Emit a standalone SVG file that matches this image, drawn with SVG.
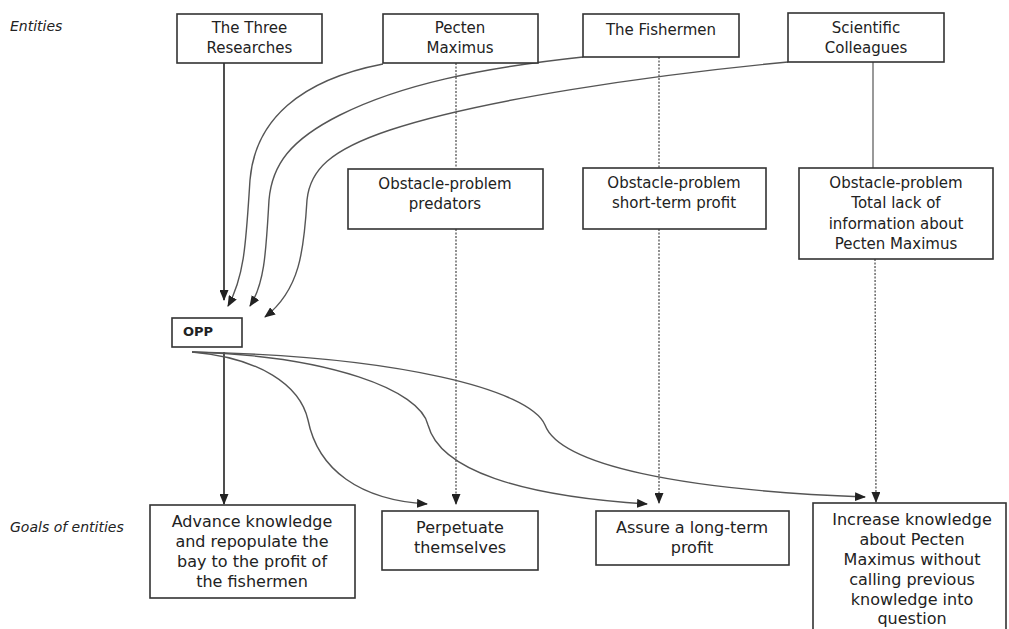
<svg xmlns="http://www.w3.org/2000/svg" width="1009" height="629" viewBox="0 0 1009 629">
<style>
.box{fill:#fff;stroke:#333;stroke-width:1.6}
.t{font-family:"DejaVu Sans",sans-serif;font-size:15px;fill:#222;text-anchor:middle}
.tb{font-family:"DejaVu Sans",sans-serif;font-size:16px;fill:#222;text-anchor:middle}
.lab{font-family:"DejaVu Sans",sans-serif;font-size:14px;font-style:italic;fill:#222}
.solid{fill:none;stroke:#222;stroke-width:1.6}
.curve{fill:none;stroke:#555;stroke-width:1.4}
.dot{fill:none;stroke:#555;stroke-width:1.3;stroke-dasharray:2 1.5}
.gray{fill:none;stroke:#999;stroke-width:2}
</style>
<defs>
<marker id="ah" markerUnits="userSpaceOnUse" markerWidth="11" markerHeight="9" refX="10" refY="4.5" orient="auto">
<path d="M0,0 L11,4.5 L0,9 z" fill="#222"/>
</marker>
</defs>
<rect width="1009" height="629" fill="#fff"/>
<text class="lab" x="10" y="31">Entities</text>
<text class="lab" x="10" y="532">Goals of entities</text>

<g id="connectors">
<line class="solid" x1="224" y1="63" x2="224" y2="300" marker-end="url(#ah)"/>
<path class="curve" d="M383,64 C300,80 255,120 250,180 C246,240 245,275 228,306" marker-end="url(#ah)"/>
<path class="curve" d="M583,57 C480,68 400,85 340,115 C290,140 272,165 269,200 C266,250 265,283 250,306" marker-end="url(#ah)"/>
<path class="curve" d="M788,62 C650,75 480,100 390,130 C330,150 310,170 307,200 C304,250 300,290 265,317" marker-end="url(#ah)"/>
<line class="dot" x1="456" y1="63" x2="456" y2="168"/>
<line class="dot" x1="456" y1="229" x2="456" y2="504" marker-end="url(#ah)"/>
<line class="dot" x1="659" y1="57" x2="659" y2="168"/>
<line class="dot" x1="659" y1="229" x2="659" y2="503" marker-end="url(#ah)"/>
<line class="gray" x1="873" y1="62" x2="873" y2="168"/>
<line class="dot" x1="875" y1="259" x2="876" y2="502" marker-end="url(#ah)"/>
<line class="solid" x1="224" y1="352" x2="224" y2="504" marker-end="url(#ah)"/>
<path class="curve" d="M192,352 C260,358 300,385 308,420 C318,470 360,500 427,504" marker-end="url(#ah)"/>
<path class="curve" d="M192,352 C330,356 420,390 428,425 C440,470 520,496 647,504" marker-end="url(#ah)"/>
<path class="curve" d="M192,352 C400,356 530,390 545,425 C560,465 680,490 865,497" marker-end="url(#ah)"/>
</g>

<g id="three-researches"><rect class="box" x="177" y="14" width="145" height="49"/>
<text class="t" x="249.5" y="33">The Three</text><text class="t" x="249.5" y="53">Researches</text></g>
<g id="pecten-maximus"><rect class="box" x="383" y="14" width="155" height="49"/>
<text class="t" x="460" y="33">Pecten</text><text class="t" x="460" y="53">Maximus</text></g>
<g id="fishermen"><rect class="box" x="583" y="14" width="156" height="43"/>
<text class="t" x="661" y="35">The Fishermen</text></g>
<g id="scientific-colleagues"><rect class="box" x="788" y="13" width="156" height="49"/>
<text class="t" x="866" y="33">Scientific</text><text class="t" x="866" y="53">Colleagues</text></g>

<g id="obstacle-predators"><rect class="box" x="348" y="169" width="195" height="60"/>
<text class="t" x="445" y="189">Obstacle-problem</text><text class="t" x="445" y="209">predators</text></g>
<g id="obstacle-short-term"><rect class="box" x="583" y="168" width="183" height="61"/>
<text class="t" x="674" y="188">Obstacle-problem</text><text class="t" x="674" y="208">short-term profit</text></g>
<g id="obstacle-information"><rect class="box" x="799" y="168" width="194" height="91"/>
<text class="t" x="896" y="188">Obstacle-problem</text><text class="t" x="896" y="208">Total lack of</text>
<text class="t" x="896" y="229">information about</text><text class="t" x="896" y="249">Pecten Maximus</text></g>

<g id="opp"><rect class="box" x="172" y="318" width="70" height="29"/>
<text x="183" y="336" style="font-family:'DejaVu Sans',sans-serif;font-size:13px;font-weight:bold;fill:#222">OPP</text></g>

<g id="goal-advance"><rect class="box" x="150" y="505" width="205" height="93"/>
<text class="tb" x="252" y="527">Advance knowledge</text><text class="tb" x="252" y="547">and repopulate the</text>
<text class="tb" x="252" y="567">bay to the profit of</text><text class="tb" x="252" y="587">the fishermen</text></g>
<g id="goal-perpetuate"><rect class="box" x="382" y="511" width="156" height="59"/>
<text class="tb" x="460" y="533">Perpetuate</text><text class="tb" x="460" y="553">themselves</text></g>
<g id="goal-assure"><rect class="box" x="596" y="511" width="193" height="54"/>
<text class="tb" x="692" y="533">Assure a long-term</text><text class="tb" x="692" y="553">profit</text></g>
<g id="goal-increase"><rect class="box" x="813" y="503" width="193" height="140"/>
<text class="tb" x="912" y="525">Increase knowledge</text><text class="tb" x="912" y="545">about Pecten</text>
<text class="tb" x="912" y="565">Maximus without</text><text class="tb" x="912" y="585">calling previous</text>
<text class="tb" x="912" y="605">knowledge into</text><text class="tb" x="912" y="624">question</text></g>
</svg>
